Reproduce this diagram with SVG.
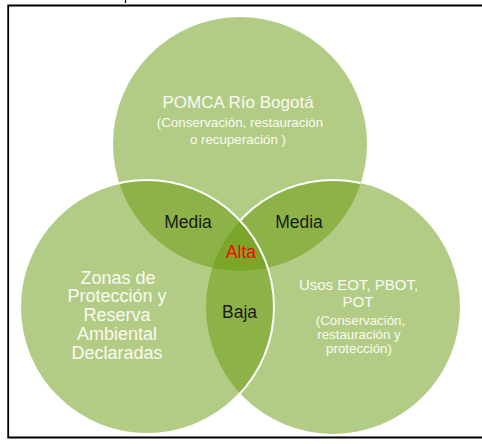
<svg xmlns="http://www.w3.org/2000/svg" width="482" height="444" viewBox="0 0 482 444">
  <style>
    .circ { fill: #679A0B; fill-opacity: 0.5; }
    .ring { fill: none; stroke: #FFFFFF; stroke-width: 2; }
    .wt { font-family: "Liberation Sans", Arial, sans-serif; fill: #FAFAF2; text-anchor: middle; }
    .lbl { font-family: "Liberation Sans", Arial, sans-serif; font-size: 17.5px; fill: #1A1A1A; text-anchor: middle; }
    .frame { stroke: #000000; stroke-width: 1.8; fill: none; }
  </style>
  <defs>
    <mask id="rightStrokeMask" maskUnits="userSpaceOnUse" x="0" y="0" width="482" height="444">
      <circle cx="240" cy="144" r="127" fill="#FFFFFF"/>
      <circle cx="147" cy="307" r="127" fill="#000000"/>
    </mask>
  </defs>
  <rect x="0" y="0" width="482" height="444" fill="#FFFFFF"/>
  <g id="frame">
    <path class="frame" d="M482 5.5 H8.2 V437.5 H482"/>
    <line x1="125.5" y1="0" x2="125.5" y2="3" stroke="#000000" stroke-width="1.3"/>
  </g>
  <g id="node-pomca">
    <circle class="circ" cx="240" cy="144" r="127"/>
  </g>
  <g id="node-usos">
    <circle class="circ" cx="333" cy="307" r="127"/>
  </g>
  <g id="node-zonas">
    <circle class="circ" cx="147" cy="307" r="127"/>
  </g>
  <g id="connectors">
    <circle class="ring" cx="333" cy="307" r="127" mask="url(#rightStrokeMask)"/>
    <circle class="ring" cx="147" cy="307" r="127"/>
  </g>
  <g id="text-pomca">
    <text class="wt" x="238" y="108" font-size="17">POMCA Río Bogotá</text>
    <text class="wt" x="240" y="127" font-size="13.3">(Conservación, restauración</text>
    <text class="wt" x="238" y="143.5" font-size="13.3">o recuperación )</text>
  </g>
  <g id="text-zonas">
    <text class="wt" x="118" y="283.5" font-size="18">Zonas de</text>
    <text class="wt" x="117" y="302" font-size="18">Protección y</text>
    <text class="wt" x="117" y="321" font-size="18">Reserva</text>
    <text class="wt" x="117" y="340" font-size="18">Ambiental</text>
    <text class="wt" x="117" y="358.5" font-size="18">Declaradas</text>
  </g>
  <g id="text-usos">
    <text class="wt" x="358.5" y="289.5" font-size="15">Usos EOT, PBOT,</text>
    <text class="wt" x="358" y="307" font-size="15">POT</text>
    <text class="wt" x="360.5" y="325" font-size="13.3">(Conservación,</text>
    <text class="wt" x="359" y="338.5" font-size="13.3">restauración y</text>
    <text class="wt" x="359" y="353" font-size="13.3">protección)</text>
  </g>
  <g id="zone-media-left">
    <text class="lbl" x="188" y="228">Media</text>
  </g>
  <g id="zone-media-right">
    <text class="lbl" x="299" y="228">Media</text>
  </g>
  <g id="zone-alta">
    <text class="lbl" x="241" y="258" style="fill:#FF0000">Alta</text>
  </g>
  <g id="zone-baja">
    <text class="lbl" x="239.5" y="318">Baja</text>
  </g>
</svg>
